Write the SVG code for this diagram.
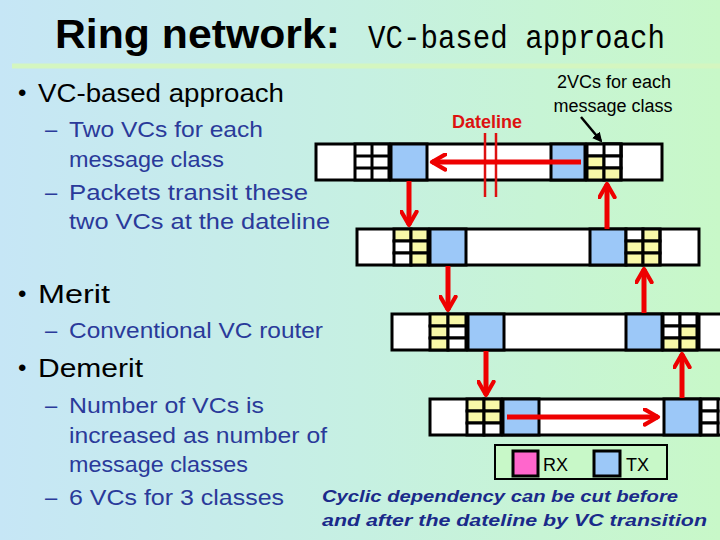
<svg xmlns="http://www.w3.org/2000/svg" width="720" height="540" viewBox="0 0 720 540">
<defs>
<linearGradient id="bg" x1="0" y1="0" x2="1" y2="0"><stop offset="0" stop-color="#c6e6f6"/><stop offset="0.5" stop-color="#c6f0e2"/><stop offset="1" stop-color="#c8f8c8"/></linearGradient>
<marker id="ah" viewBox="0 0 10 10" refX="8" refY="5" markerWidth="3.8" markerHeight="3.8" orient="auto"><path d="M1,1 L8,5 L1,9" fill="none" stroke="#ee0000" stroke-width="2.2" stroke-linecap="round" stroke-linejoin="round"/></marker>
<marker id="bk" viewBox="0 0 10 10" refX="8" refY="5" markerWidth="4" markerHeight="4" orient="auto"><path d="M0,0 L10,5 L0,10 Z" fill="#000"/></marker>
</defs>
<style>
.t{font-family:"Liberation Sans",sans-serif}
.b{fill:#000}.s{fill:#2a3a9a}
.c{stroke:#000;stroke-width:3}
.w{fill:#fff}.bl{fill:#9cc8f8}.y{fill:#f8f8a8}
.a{stroke:#ee0000;stroke-width:5;fill:none;marker-end:url(#ah)}
.ln{stroke:#000;stroke-width:2.5}
</style>
<rect width="720" height="540" fill="url(#bg)"/>
<line x1="12" y1="66" x2="720" y2="66" stroke="#d4f6c0" stroke-width="5"/>
<g id="title">
<text x="55" y="48" class="t" font-size="40" font-weight="bold" textLength="285" lengthAdjust="spacingAndGlyphs">Ring network:</text>
<text x="368" y="48" font-family="Liberation Mono,monospace" font-size="33" textLength="297" lengthAdjust="spacingAndGlyphs">VC-based approach</text>
</g>
<g id="bullets" class="t">
<text x="18" y="101" font-size="24">•</text><text x="38" y="102" font-size="25" textLength="246" lengthAdjust="spacingAndGlyphs">VC-based approach</text>
<text x="45" y="137" font-size="22" class="s">– </text><text x="69" y="137" font-size="22" class="s" textLength="194" lengthAdjust="spacingAndGlyphs">Two VCs for each</text>
<text x="69" y="167" font-size="22" class="s" textLength="155" lengthAdjust="spacingAndGlyphs">message class</text>
<text x="45" y="200" font-size="22" class="s">– </text><text x="69" y="200" font-size="22" class="s" textLength="239" lengthAdjust="spacingAndGlyphs">Packets transit these</text>
<text x="69" y="229" font-size="22" class="s" textLength="261" lengthAdjust="spacingAndGlyphs">two VCs at the dateline</text>
<text x="18" y="302" font-size="24">•</text><text x="38" y="303" font-size="25" textLength="72" lengthAdjust="spacingAndGlyphs">Merit</text>
<text x="45" y="338" font-size="22" class="s">– </text><text x="69" y="338" font-size="22" class="s" textLength="254" lengthAdjust="spacingAndGlyphs">Conventional VC router</text>
<text x="18" y="376" font-size="24">•</text><text x="38" y="377" font-size="25" textLength="105" lengthAdjust="spacingAndGlyphs">Demerit</text>
<text x="45" y="413" font-size="22" class="s">– </text><text x="69" y="413" font-size="22" class="s" textLength="195" lengthAdjust="spacingAndGlyphs">Number of VCs is</text>
<text x="69" y="443" font-size="22" class="s" textLength="258" lengthAdjust="spacingAndGlyphs">increased as number of</text>
<text x="69" y="472" font-size="22" class="s" textLength="179" lengthAdjust="spacingAndGlyphs">message classes</text>
<text x="45" y="505" font-size="22" class="s">– </text><text x="69" y="505" font-size="22" class="s" textLength="215" lengthAdjust="spacingAndGlyphs">6 VCs for 3 classes</text>
</g>
<g id="router1" class="c">
<rect x="316" y="144" width="346" height="36" class="w"/>
<rect x="355" y="144" width="34" height="36" class="w"/>
<rect x="391" y="144" width="36" height="36" class="bl"/>
<rect x="551" y="144" width="34" height="36" class="bl"/>
<rect x="587" y="144" width="34" height="12" class="w"/><rect x="604" y="144" width="17" height="12" class="w"/>
<rect x="587" y="156" width="17" height="12" class="y"/><rect x="604" y="156" width="17" height="12" class="w"/>
<rect x="587" y="168" width="17" height="12" class="y"/><rect x="604" y="168" width="17" height="12" class="y"/>
<line x1="355" y1="156" x2="389" y2="156"/><line x1="355" y1="168" x2="389" y2="168"/><line x1="372" y1="144" x2="372" y2="180"/>
<line x1="621" y1="144" x2="621" y2="180"/>
</g>
<g id="router2" class="c">
<rect x="357" y="229" width="342" height="36" class="w"/>
<rect x="394" y="229" width="17" height="12" class="y"/><rect x="411" y="229" width="17" height="12" class="y"/>
<rect x="394" y="241" width="17" height="12" class="w"/><rect x="411" y="241" width="17" height="12" class="y"/>
<rect x="394" y="253" width="17" height="12" class="w"/><rect x="411" y="253" width="17" height="12" class="y"/>
<rect x="430" y="229" width="36" height="36" class="bl"/>
<rect x="590" y="229" width="36" height="36" class="bl"/>
<rect x="626" y="229" width="17" height="12" class="w"/><rect x="643" y="229" width="17" height="12" class="y"/>
<rect x="626" y="241" width="17" height="12" class="y"/><rect x="643" y="241" width="17" height="12" class="y"/>
<rect x="626" y="253" width="17" height="12" class="y"/><rect x="643" y="253" width="17" height="12" class="y"/>
<line x1="660" y1="229" x2="660" y2="265"/>
</g>
<g id="router3" class="c">
<rect x="392" y="314" width="340" height="36" class="w"/>
<rect x="430" y="314" width="18" height="12" class="y"/><rect x="448" y="314" width="18" height="12" class="y"/>
<rect x="430" y="326" width="18" height="12" class="y"/><rect x="448" y="326" width="18" height="12" class="w"/>
<rect x="430" y="338" width="18" height="12" class="y"/><rect x="448" y="338" width="18" height="12" class="w"/>
<rect x="468" y="314" width="36" height="36" class="bl"/>
<rect x="626" y="314" width="36" height="36" class="bl"/>
<rect x="663" y="314" width="17" height="12" class="w"/><rect x="680" y="314" width="17" height="12" class="w"/>
<rect x="663" y="326" width="17" height="12" class="w"/><rect x="680" y="326" width="17" height="12" class="y"/>
<rect x="663" y="338" width="17" height="12" class="y"/><rect x="680" y="338" width="17" height="12" class="y"/>
<line x1="699" y1="314" x2="699" y2="350"/>
</g>
<g id="router4" class="c">
<rect x="430" y="399" width="310" height="36" class="w"/>
<rect x="467" y="399" width="17" height="12" class="y"/><rect x="484" y="399" width="17" height="12" class="y"/>
<rect x="467" y="411" width="17" height="12" class="y"/><rect x="484" y="411" width="17" height="12" class="y"/>
<rect x="467" y="423" width="17" height="12" class="w"/><rect x="484" y="423" width="17" height="12" class="w"/>
<rect x="503" y="399" width="36" height="36" class="bl"/>
<rect x="664" y="399" width="36" height="36" class="bl"/>
<rect x="701" y="399" width="17" height="12" class="w"/><rect x="701" y="411" width="17" height="12" class="w"/><rect x="701" y="423" width="17" height="12" class="w"/>
</g>
<g id="dateline">
<line x1="485" y1="133" x2="485" y2="197" stroke="#dd1111" stroke-width="2.5"/>
<line x1="496" y1="133" x2="496" y2="197" stroke="#dd1111" stroke-width="2.5"/>
<text x="452" y="128" class="t" font-size="18" font-weight="bold" fill="#dd1111">Dateline</text>
</g>
<g id="callout">
<text x="614" y="88" class="t" font-size="18" text-anchor="middle">2VCs for each</text>
<text x="613" y="112" class="t" font-size="18" text-anchor="middle">message class</text>
<line x1="581" y1="117" x2="601" y2="141" class="ln" marker-end="url(#bk)"/>
</g>
<g id="connectors">
<line x1="581" y1="162" x2="432" y2="162" class="a"/>
<line x1="409" y1="181" x2="409" y2="225" class="a"/>
<line x1="607" y1="229" x2="607" y2="184" class="a"/>
<line x1="448" y1="266" x2="448" y2="310" class="a"/>
<line x1="644" y1="313" x2="644" y2="269" class="a"/>
<line x1="486" y1="351" x2="486" y2="395" class="a"/>
<line x1="682" y1="398" x2="682" y2="354" class="a"/>
<line x1="507" y1="417" x2="658" y2="417" class="a"/>
</g>
<g id="legend">
<rect x="495" y="445" width="172" height="34" fill="#c8f8c8" stroke="#000" stroke-width="2"/>
<rect x="513" y="451" width="25" height="25" fill="#ff66cc" stroke="#000" stroke-width="3"/>
<text x="543" y="471" class="t" font-size="18">RX</text>
<rect x="594" y="451" width="26" height="25" class="bl" stroke="#000" stroke-width="3"/>
<text x="626" y="471" class="t" font-size="18">TX</text>
</g>
<g id="note" class="t" font-size="16" font-style="italic" font-weight="bold" fill="#1a2a8a">
<text x="322" y="502" textLength="356" lengthAdjust="spacingAndGlyphs">Cyclic dependency can be cut before</text>
<text x="322" y="526" textLength="385" lengthAdjust="spacingAndGlyphs">and after the dateline by VC transition</text>
</g>
</svg>
